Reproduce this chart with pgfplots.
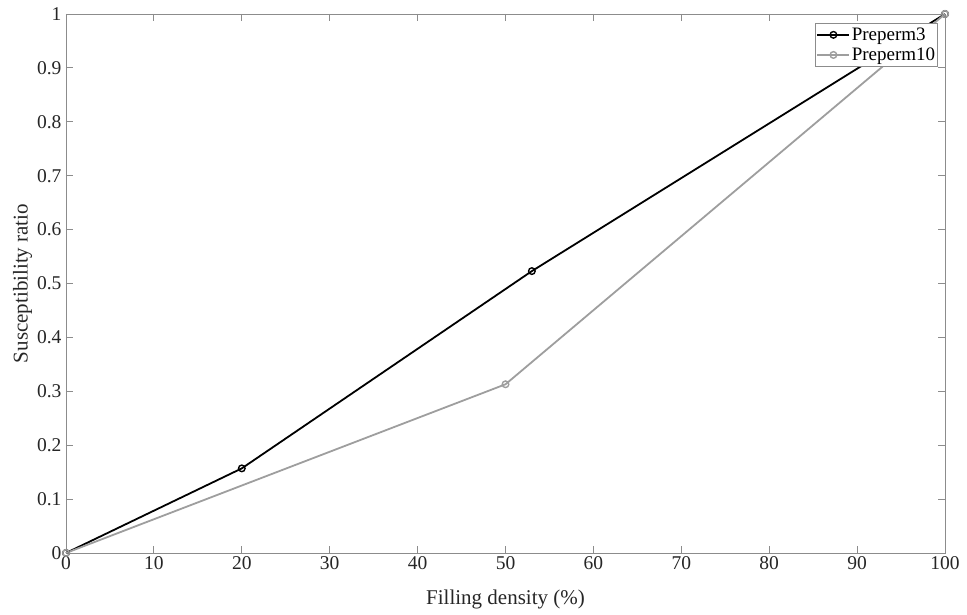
\documentclass[border=0pt]{standalone}
\usepackage{fontspec}
\setmainfont{Liberation Serif}
\usepackage{pgfplots}
\pgfplotsset{compat=1.18}

\definecolor{axgray}{gray}{0.55}
\definecolor{linegray}{gray}{0.62}

\begin{document}
\begin{tikzpicture}[x=1pt,y=1pt]
\path[use as bounding box] (-66pt,-62pt) rectangle (901pt,553pt);
\begin{axis}[
  scale only axis,
  width=879pt, height=539pt,
  xmin=0, xmax=100, ymin=0, ymax=1,
  xtick={0,10,...,100},
  ytick={0,0.1,...,1},
  tick align=inside,
  major tick length=7pt,
  axis line style={axgray, line width=0.8pt},
  every tick/.style={axgray, line width=0.8pt},
  tick label style={font=\fontsize{19.5}{21}\selectfont, text=black!85},
  /pgf/number format/assume math mode=true,
  yticklabel style={/pgf/number format/fixed, /pgf/number format/precision=1, xshift=-1pt},
  xlabel={Filling density (\%)},
  ylabel={Susceptibility ratio},
  label style={font=\fontsize{21}{23}\selectfont, text=black!85},
  xlabel style={yshift=-13pt},
  ylabel style={yshift=-2pt},
  legend style={
    at={(rel axis cs:1,1)}, anchor=north east,
    yshift=-9pt, xshift=-7pt,
    draw=axgray, line width=0.6pt, fill=white,
    font=\fontsize{19}{19}\selectfont,
    inner xsep=1pt, inner ysep=3pt,
    row sep=3pt,
    nodes={inner sep=1.5pt},
    legend cell align=left,
  },
  legend image code/.code={
    \draw[#1, line width=1.8pt, mark repeat=2, mark phase=2]
      plot coordinates {(0pt,0pt) (16pt,0pt) (32pt,0pt)};
  },
  clip=false,
]
\addplot[black, line width=1.8pt, mark=o, mark size=3.3pt,
  mark options={line width=1.4pt}]
  coordinates {(0,0) (20,0.157) (53,0.523) (100,1)};
\addlegendentry{Preperm3}
\addplot[linegray, line width=1.8pt, mark=o, mark size=3.3pt,
  mark options={line width=1.4pt}]
  coordinates {(0,0) (50,0.313) (100,1)};
\addlegendentry{Preperm10}
\end{axis}
\end{tikzpicture}
\end{document}
